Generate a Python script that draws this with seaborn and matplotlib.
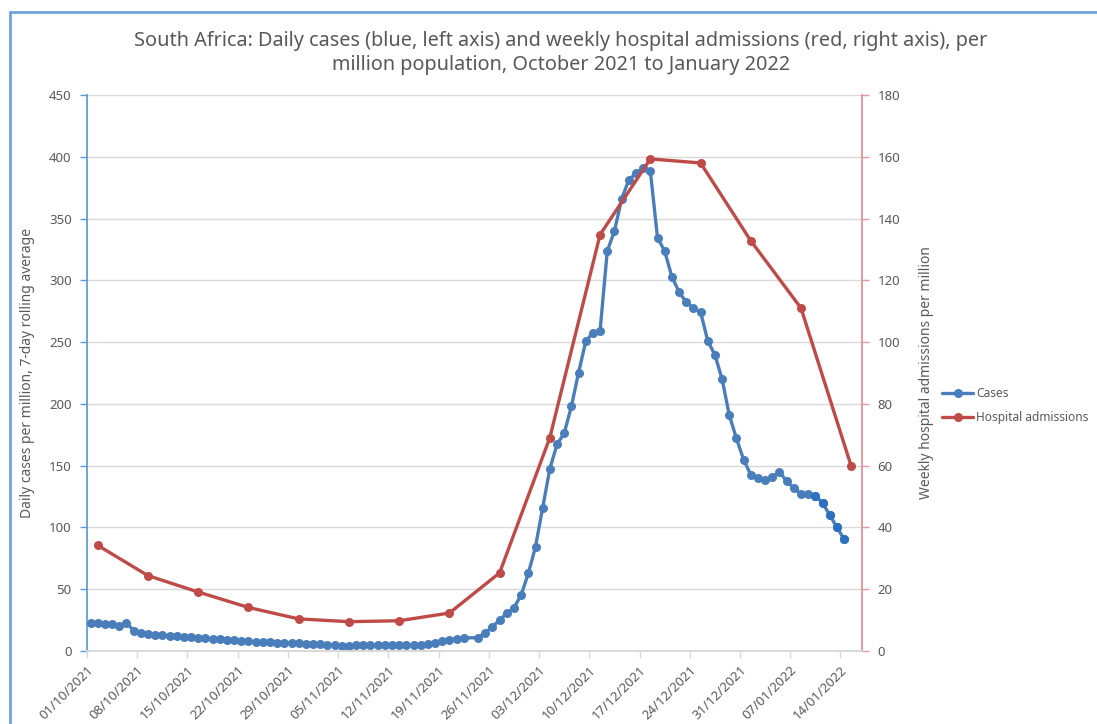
"""South Africa daily cases vs weekly hospital admissions, Oct 2021 - Jan 2022."""

import matplotlib

matplotlib.use("Agg")
import matplotlib.pyplot as plt
import matplotlib.dates as mdates
from matplotlib.lines import Line2D
import numpy as np
import pandas as pd
import seaborn as sns

START = "2021-10-01"

# daily cases per million, 7-day rolling average (one value per day from 01/10/2021, NaN = missing day)
cases = [
    23, 22.5, 22, 21.8, 20.5, 23, 16.5, 14.5, 13.5, 13.2,
    12.8, 12.4, 12, 11.6, 11.2, 10.8, 10.4, 10, 9.6, 9.2,
    8.6, 8.2, 7.8, 7.4, 7.2, 7, 6.8, 6.6, 6.4, 6.2,
    6, 5.8, 5.4, 5, 4.6, 4.2, 4.4, 4.5, 4.5, 4.5,
    4.5, 4.5, 4.5, 4.5, 4.5, 4.6, 4.8, 5.4, 6.5, 7.8,
    9, 10, 10.6, np.nan, 10.8, 14.8, 19.7, 25.1, 30.5, 35.1,
    45.3, 62.9, 84.4, 116, 147.5, 167.3, 176.2, 198, 225.2, 250.6,
    257.6, 259.2, 323.7, 339.9, 365.8, 381.2, 386.6, 390.7, 388.5, 334.5,
    323.7, 302.9, 290.8, 282.2, 277.8, 274.4, 251.1, 239.6, 220.1, 191,
    172, 154.8, 142.7, 140, 138.1, 140.6, 145.1, 137.3, 131.9, 127.1,
    127.1, 125.7, 119.8, 110.1, 100.1, 90.6,
]

# weekly hospital admissions per million, one value per week starting 02/10/2021
admissions = [34.2, 24.4, 19.1, 14.1, 10.4, 9.5, 9.8, 12.3,
              25.3, 69.1, 134.8, 159.3, 158.0, 132.8, 111.0, 59.8]

BLUE = "#4A7EBB"
BLUE_DARK = "#2A72C0"
RED = "#BE4B48"
GREY = "#595959"
GRID = "#D9D9D9"


def main() -> None:
    sns.set_theme(style="white")
    plt.rcParams["font.family"] = ["Noto Sans", "DejaVu Sans"]

    start = pd.Timestamp(START)
    df_cases = pd.DataFrame({
        "date": start + pd.to_timedelta(np.arange(len(cases)), unit="D") + pd.Timedelta(hours=12),
        "cases": cases,
    })
    df_adm = pd.DataFrame({
        "date": start + pd.Timedelta(days=1) + pd.to_timedelta(np.arange(len(admissions)) * 7, unit="D")
        + pd.Timedelta(hours=12),
        "admissions": admissions,
    })

    fig = plt.figure(figsize=(10.97, 7.24), dpi=100)
    ax = fig.add_axes([0.0793, 0.1008, 0.7065, 0.768])
    ax2 = ax.twinx()

    sns.lineplot(data=df_cases, x="date", y="cases", ax=ax, color=BLUE, lw=2.4,
                 marker="o", markersize=6.5, markeredgewidth=0, zorder=3)
    late = df_cases.tail(5)
    ax.plot(late["date"], late["cases"], ls="none", marker="o", ms=6.5, mew=0, color=BLUE_DARK, zorder=4)
    sns.lineplot(data=df_adm, x="date", y="admissions", ax=ax2, color=RED, lw=2.4,
                 marker="o", markersize=6.5, markeredgewidth=0)

    ax.set_xlim(start, pd.Timestamp("2022-01-17"))
    ax.set_ylim(0, 450)
    ax2.set_ylim(0, 180)
    ax.set_yticks(range(0, 451, 50))
    ax2.set_yticks(range(0, 181, 20))
    ax.set_xticks(pd.date_range(start, "2022-01-14", freq="7D"))
    ax.xaxis.set_major_formatter(mdates.DateFormatter("%d/%m/%Y"))
    for lab in ax.get_xticklabels():
        lab.set_rotation(45)
        lab.set_ha("right")
        lab.set_rotation_mode("anchor")

    ax.yaxis.grid(True, color=GRID, lw=1)
    ax.set_axisbelow(True)
    ax2.set_zorder(ax.get_zorder() + 1)
    ax2.patch.set_visible(False)

    for a in (ax, ax2):
        a.spines["top"].set_visible(False)
        a.spines["bottom"].set_color(GRID)
    ax.spines["left"].set_color("#5B9BD5")
    ax.spines["right"].set_visible(False)
    ax2.spines["left"].set_visible(False)
    ax2.spines["right"].set_color("#E49A9A")
    ax2.spines["right"].set_linewidth(1.4)

    ax.tick_params(axis="y", left=True, length=5, width=1, color="#5B9BD5",
                   labelsize=9.5, labelcolor=GREY, pad=6)
    ax.tick_params(axis="x", bottom=True, length=5, width=1, color=GRID,
                   labelsize=9.5, labelcolor=GREY, pad=4)
    ax2.tick_params(axis="y", right=True, length=5, width=1, color="#E49A9A",
                    labelsize=9.5, labelcolor=GREY, pad=6)

    ax.set_xlabel("")
    ax.set_ylabel("Daily cases per million, 7-day rolling average", color=GREY, fontsize=10, labelpad=10)
    ax2.set_ylabel("Weekly hospital admissions per million", color=GREY, fontsize=10, labelpad=14)

    fig.text(0.511, 0.927, "South Africa: Daily cases (blue, left axis) and weekly hospital admissions (red, right axis), per\n"
             "million population, October 2021 to January 2022",
             ha="center", va="center", color=GREY, fontsize=14.3, linespacing=1.3)

    handles = [
        Line2D([], [], color=BLUE, lw=2.4, marker="o", ms=6.5, mew=0),
        Line2D([], [], color=RED, lw=2.4, marker="o", ms=6.5, mew=0),
    ]
    fig.legend(handles, ["Cases", "Hospital admissions"], loc="center left",
               bbox_to_anchor=(0.850, 0.44), frameon=False, fontsize=8.6,
               labelcolor=GREY, handlelength=2.6, handletextpad=0.25, labelspacing=0.9,
               borderpad=0.3)

    # chart frame outline (left and top edges)
    fig.add_artist(Line2D([0.0095, 0.0095], [0, 0.9835], color="#6FA3DA", lw=2))
    fig.add_artist(Line2D([0.0095, 1], [0.9835, 0.9835], color="#6FA3DA", lw=2))

    fig.savefig("out.png", dpi=100)
    plt.close(fig)


if __name__ == "__main__":
    main()
